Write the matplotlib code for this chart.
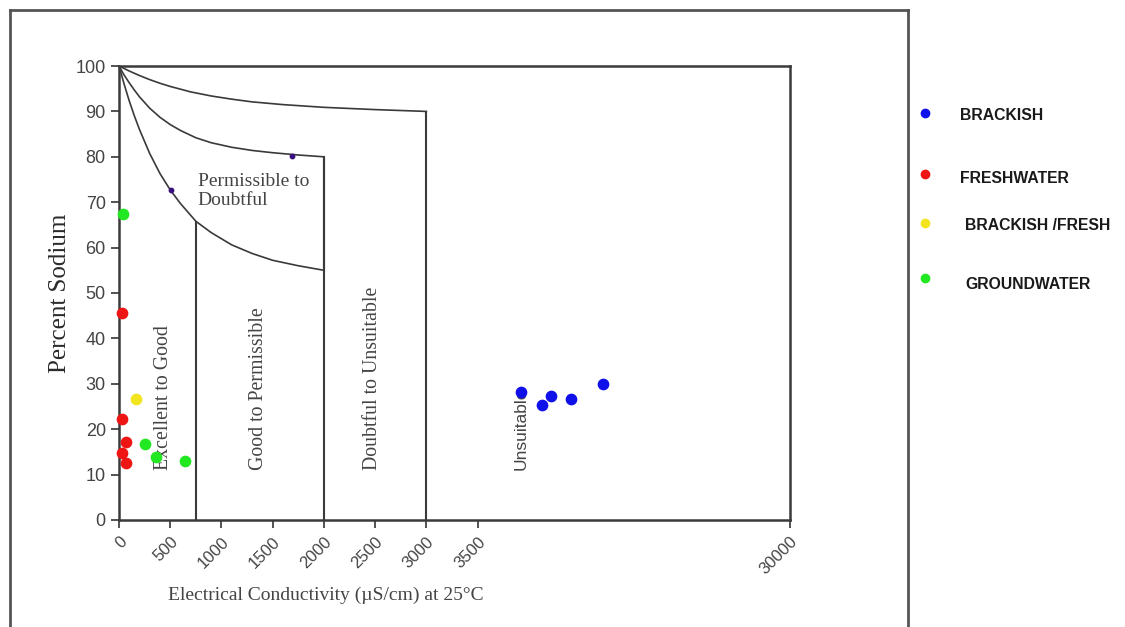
import numpy as np
import matplotlib
matplotlib.use("Agg")
import matplotlib.pyplot as plt
from matplotlib.lines import Line2D

# sample points (EC in uS/cm, percent sodium)
brackish_ec = [7200, 9000, 9700, 11400, 14150]
brackish_na = [28.1, 25.3, 27.2, 26.7, 29.9]
fresh_ec = [25, 25, 65, 25, 65]
fresh_na = [45.7, 22.2, 17.2, 14.8, 12.5]
mixed_ec = [165]
mixed_na = [26.6]
ground_ec = [35, 250, 365, 645]
ground_na = [67.3, 16.7, 13.9, 13.1]
hidden_ec = [505, 1690]
hidden_na = [72.7, 80.2]

# Wilcox class boundaries
low_ec = [0, 50, 100, 150, 200, 300, 400, 500, 600, 750, 900, 1100, 1300, 1500, 1750, 2000]
low_na = [100, 96.0, 92.3, 89.0, 86.0, 80.7, 76.3, 72.7, 69.7, 65.8, 63.3, 60.6, 58.7, 57.2, 56.0, 55.0]
mid_ec = [0, 50, 100, 150, 200, 300, 400, 500, 600, 750, 900, 1100, 1300, 1500, 1750, 2000]
mid_na = [100, 98.0, 96.3, 94.7, 93.2, 90.7, 88.7, 87.1, 85.8, 84.2, 83.1, 82.1, 81.4, 80.9, 80.4, 80.0]
top_ec = [0, 100, 200, 300, 400, 500, 700, 900, 1100, 1300, 1600, 2000, 2500, 3000]
top_na = [100, 98.9, 97.9, 97.0, 96.2, 95.5, 94.3, 93.4, 92.7, 92.1, 91.5, 90.9, 90.4, 90.0]
bound_ec = [750, 2000, 3000]
bound_top = [65.8, 80.0, 90.0]

x_ticks = [0, 500, 1000, 1500, 2000, 2500, 3000, 3500, 30000]
y_ticks = list(range(0, 101, 10))

legend_labels = ['BRACKISH', 'FRESHWATER', 'BRACKISH /FRESH', 'GROUNDWATER']
legend_colors = ['#1010ea', '#ee1515', '#f2e41e', '#22e822']

ec_knots = [0, 3500, 30000]
ax_knots = [0, 3500, 6549]


def fwd(x):
    return np.interp(x, ec_knots, ax_knots)


def inv(x):
    return np.interp(x, ax_knots, ec_knots)


fig = plt.figure(figsize=(11.25, 6.27), dpi=100)
ax = fig.add_axes([0.1058, 0.1707, 0.5964, 0.7240])
ax.set_xscale('function', functions=(fwd, inv))
ax.set_xlim(0, 30000)
ax.set_ylim(0, 100)

line_col = '#3a3a3a'
ax.plot(low_ec, low_na, color=line_col, lw=1.2)
ax.plot(mid_ec, mid_na, color=line_col, lw=1.2)
ax.plot(top_ec, top_na, color=line_col, lw=1.2)
ax.vlines(bound_ec, 0, bound_top, color=line_col, lw=1.5)
ax.plot([2000, 2000], [55, 80], color=line_col, lw=1.5)

serif = 'Liberation Serif'
txt_col = '#444444'
ax.text(767, 72.4, 'Permissible to\nDoubtful', ha='left', va='center',
        family=serif, fontsize=14, color=txt_col, linespacing=1.15)
for xe, lab in [(436, 'Excellent to Good'), (1362, 'Good to Permissible'),
                (2472, 'Doubtful to Unsuitable')]:
    ax.text(xe, 11, lab, rotation=90, ha='center', va='bottom',
            family=serif, fontsize=14.3, color=txt_col)
ax.text(7204, 11, 'Unsuitable', rotation=90, ha='center', va='bottom',
        family='Liberation Sans', fontsize=12.5, color=txt_col)

ax.scatter(brackish_ec, brackish_na, s=55, color=legend_colors[0], zorder=5)
ax.scatter(fresh_ec, fresh_na, s=55, color=legend_colors[1], zorder=5, clip_on=False)
ax.scatter(mixed_ec, mixed_na, s=55, color=legend_colors[2], zorder=5)
ax.scatter(ground_ec, ground_na, s=55, color=legend_colors[3], zorder=5, clip_on=False)
ax.scatter(hidden_ec, hidden_na, s=10, color='#3a1080', zorder=5)

ax.set_xticks(x_ticks)
ax.set_xticklabels([str(t) for t in x_ticks], rotation=45, ha='right',
                   rotation_mode='anchor', fontsize=12, color=txt_col,
                   family='Liberation Sans')
ax.set_yticks(y_ticks)
ax.set_yticklabels([str(t) for t in y_ticks], fontsize=13, color=txt_col,
                   family='Liberation Sans')
ax.tick_params(axis='both', direction='out', length=6, width=1.3, color='#444444')
ax.tick_params(axis='x', pad=4)
for sp in ax.spines.values():
    sp.set_color('#3a3a3a')
    sp.set_linewidth(1.8)

ax.set_ylabel('Percent Sodium', family=serif, fontsize=18, color='#2a2a2a')
ax.yaxis.set_label_coords(-0.071, 0.5)
ax.set_xlabel('Electrical Conductivity (\u00b5S/cm) at 25\u00b0C', family=serif,
              fontsize=14, color=txt_col)
ax.xaxis.set_label_coords(0.308, -0.147)

# outer frame of the original figure
frame_col = '#555555'
fig.add_artist(Line2D([0.0089, 0.0089], [0.0, 0.984], color=frame_col, lw=2.0))
fig.add_artist(Line2D([0.0089, 0.807], [0.984, 0.984], color=frame_col, lw=2.0))
fig.add_artist(Line2D([0.807, 0.807], [0.0, 0.984], color=frame_col, lw=2.0))

# legend at the right
leg_y = [0.815, 0.716, 0.640, 0.547]
dot_y = [0.820, 0.722, 0.644, 0.557]
leg_x = [0.853, 0.853, 0.858, 0.858]
for lab, col, yy, dy, xx in zip(legend_labels, legend_colors, leg_y, dot_y, leg_x):
    fig.lines.append(Line2D([0.8222], [dy], marker='o', markersize=6,
                            color=col, linestyle='none', transform=fig.transFigure))
    fig.text(xx, yy, lab, ha='left', va='center', family='Liberation Sans',
             fontweight='bold', fontsize=11.3, color='#1a1a1a')

fig.savefig('out.png', dpi=100, facecolor='white')
